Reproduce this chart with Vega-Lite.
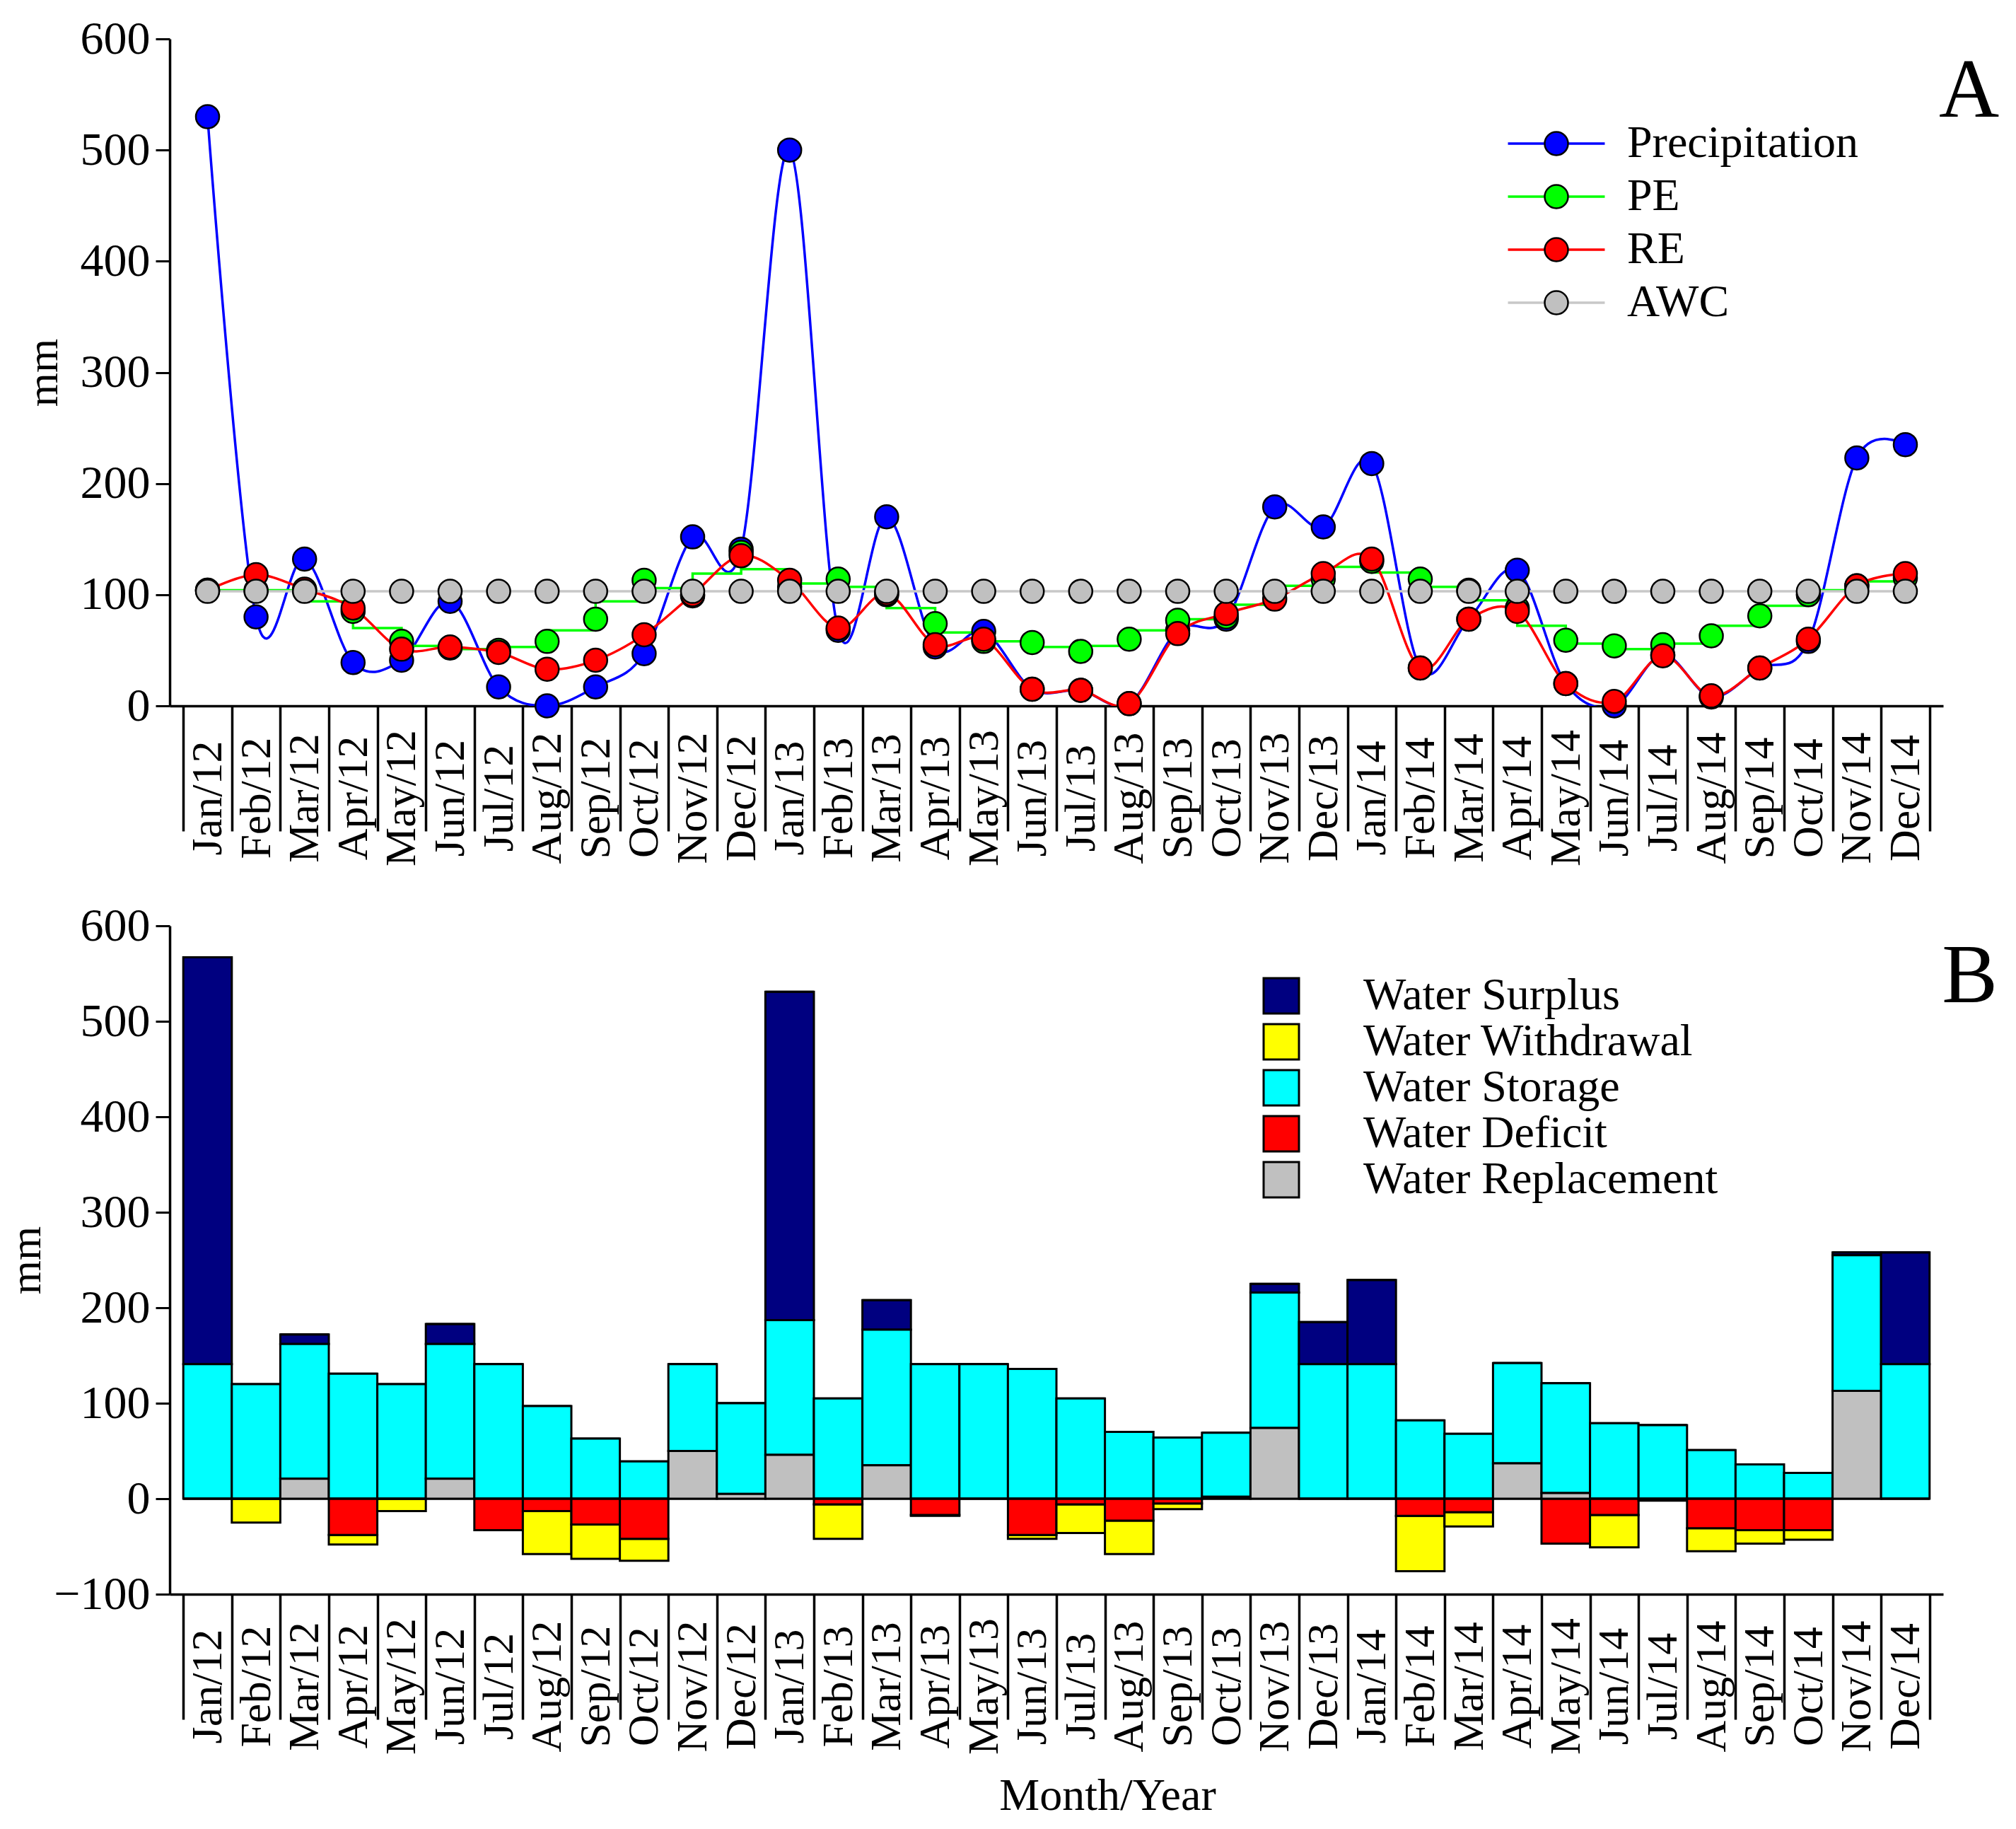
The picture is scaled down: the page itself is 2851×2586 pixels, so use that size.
{
  "$schema": "https://vega.github.io/schema/vega-lite/v6.json",
  "background": "white",
  "padding": {"left": 6, "top": 22, "right": 5, "bottom": 5},
  "config": {
    "font": "Liberation Serif",
    "view": {"stroke": null},
    "axis": {
      "labelFont": "Liberation Serif",
      "titleFont": "Liberation Serif",
      "labelColor": "black",
      "titleColor": "black",
      "domainColor": "black",
      "tickColor": "black",
      "titleFontWeight": "normal",
      "labelLimit": 1000,
      "grid": false
    },
    "axisX": {
      "labelAngle": 270,
      "labelAlign": "center",
      "labelBaseline": "middle",
      "labelFontSize": 62,
      "labelPadding": -47,
      "labelOverlap": false,
      "labelFlush": false,
      "tickSize": 177,
      "tickWidth": 3.5,
      "tickBand": "extent",
      "domainWidth": 3.5,
      "titleFontSize": 64
    },
    "axisY": {
      "labelFontSize": 66,
      "labelPadding": 8,
      "tickSize": 20,
      "tickWidth": 3,
      "domainWidth": 3.5,
      "titleFontSize": 62,
      "titleBaseline": "middle"
    },
    "legend": {
      "labelFont": "Liberation Serif",
      "labelColor": "black",
      "labelFontSize": 64,
      "labelLimit": 1000,
      "padding": 0
    }
  },
  "data": {
    "values": [
      {"m": "Jan/12", "P": 530, "PE": 104, "PEs": 104, "RE": 104, "AWC": 103, "Surplus": 426, "Storage": 141, "Replacement": 0, "Deficit": 0, "Withdrawal": 0},
      {"m": "Feb/12", "P": 80, "PE": 104, "PEs": 104, "RE": 118, "AWC": 103, "Surplus": 0, "Storage": 120, "Replacement": 0, "Deficit": 0, "Withdrawal": -25},
      {"m": "Mar/12", "P": 132, "PE": 104, "PEs": 94, "RE": 105, "AWC": 103, "Surplus": 10, "Storage": 141, "Replacement": 21, "Deficit": 0, "Withdrawal": 0},
      {"m": "Apr/12", "P": 39, "PE": 85, "PEs": 70, "RE": 88, "AWC": 103, "Surplus": 0, "Storage": 131, "Replacement": 0, "Deficit": -38, "Withdrawal": -10},
      {"m": "May/12", "P": 41, "PE": 58, "PEs": 54, "RE": 51, "AWC": 103, "Surplus": 0, "Storage": 120, "Replacement": 0, "Deficit": 0, "Withdrawal": -13},
      {"m": "Jun/12", "P": 94, "PE": 52, "PEs": 51, "RE": 53, "AWC": 103, "Surplus": 21, "Storage": 141, "Replacement": 21, "Deficit": 0, "Withdrawal": 0},
      {"m": "Jul/12", "P": 17, "PE": 50, "PEs": 53, "RE": 48, "AWC": 103, "Surplus": 0, "Storage": 141, "Replacement": 0, "Deficit": -33, "Withdrawal": 0},
      {"m": "Aug/12", "P": 0, "PE": 58, "PEs": 68, "RE": 33, "AWC": 103, "Surplus": 0, "Storage": 97, "Replacement": 0, "Deficit": -13, "Withdrawal": -45},
      {"m": "Sep/12", "P": 17, "PE": 78, "PEs": 94, "RE": 41, "AWC": 103, "Surplus": 0, "Storage": 63, "Replacement": 0, "Deficit": -27, "Withdrawal": -36},
      {"m": "Oct/12", "P": 47, "PE": 113, "PEs": 106, "RE": 64, "AWC": 103, "Surplus": 0, "Storage": 39, "Replacement": 0, "Deficit": -42, "Withdrawal": -23},
      {"m": "Nov/12", "P": 152, "PE": 99, "PEs": 119, "RE": 100, "AWC": 103, "Surplus": 0, "Storage": 91, "Replacement": 50, "Deficit": 0, "Withdrawal": 0},
      {"m": "Dec/12", "P": 141, "PE": 138, "PEs": 123, "RE": 135, "AWC": 103, "Surplus": 0, "Storage": 95, "Replacement": 5, "Deficit": 0, "Withdrawal": 0},
      {"m": "Jan/13", "P": 500, "PE": 107, "PEs": 110, "RE": 113, "AWC": 103, "Surplus": 344, "Storage": 141, "Replacement": 46, "Deficit": 0, "Withdrawal": 0},
      {"m": "Feb/13", "P": 68, "PE": 114, "PEs": 107, "RE": 70, "AWC": 103, "Surplus": 0, "Storage": 105, "Replacement": 0, "Deficit": -6, "Withdrawal": -36},
      {"m": "Mar/13", "P": 170, "PE": 100, "PEs": 88, "RE": 101, "AWC": 103, "Surplus": 31, "Storage": 142, "Replacement": 35, "Deficit": 0, "Withdrawal": 0},
      {"m": "Apr/13", "P": 53, "PE": 74, "PEs": 66, "RE": 55, "AWC": 103, "Surplus": 0, "Storage": 141, "Replacement": 0, "Deficit": -17, "Withdrawal": -1},
      {"m": "May/13", "P": 67, "PE": 58, "PEs": 58, "RE": 60, "AWC": 103, "Surplus": 0, "Storage": 141, "Replacement": 0, "Deficit": 0, "Withdrawal": 0},
      {"m": "Jun/13", "P": 15, "PE": 57, "PEs": 53, "RE": 15, "AWC": 103, "Surplus": 0, "Storage": 136, "Replacement": 0, "Deficit": -38, "Withdrawal": -4},
      {"m": "Jul/13", "P": 14, "PE": 49, "PEs": 54, "RE": 14, "AWC": 103, "Surplus": 0, "Storage": 105, "Replacement": 0, "Deficit": -6, "Withdrawal": -30},
      {"m": "Aug/13", "P": 2, "PE": 60, "PEs": 68, "RE": 2, "AWC": 103, "Surplus": 0, "Storage": 70, "Replacement": 0, "Deficit": -23, "Withdrawal": -35},
      {"m": "Sep/13", "P": 68, "PE": 77, "PEs": 78, "RE": 65, "AWC": 103, "Surplus": 0, "Storage": 64, "Replacement": 0, "Deficit": -5, "Withdrawal": -6},
      {"m": "Oct/13", "P": 78, "PE": 80, "PEs": 91, "RE": 83, "AWC": 103, "Surplus": 0, "Storage": 67, "Replacement": 2, "Deficit": 0, "Withdrawal": 0},
      {"m": "Nov/13", "P": 179, "PE": 102, "PEs": 108, "RE": 96, "AWC": 103, "Surplus": 9, "Storage": 142, "Replacement": 74, "Deficit": 0, "Withdrawal": 0},
      {"m": "Dec/13", "P": 161, "PE": 114, "PEs": 125, "RE": 119, "AWC": 103, "Surplus": 44, "Storage": 141, "Replacement": 0, "Deficit": 0, "Withdrawal": 0},
      {"m": "Jan/14", "P": 218, "PE": 130, "PEs": 120, "RE": 132, "AWC": 103, "Surplus": 88, "Storage": 141, "Replacement": 0, "Deficit": 0, "Withdrawal": 0},
      {"m": "Feb/14", "P": 34, "PE": 114, "PEs": 107, "RE": 34, "AWC": 103, "Surplus": 0, "Storage": 82, "Replacement": 0, "Deficit": -18, "Withdrawal": -58},
      {"m": "Mar/14", "P": 78, "PE": 104, "PEs": 95, "RE": 78, "AWC": 103, "Surplus": 0, "Storage": 68, "Replacement": 0, "Deficit": -14, "Withdrawal": -15},
      {"m": "Apr/14", "P": 122, "PE": 88, "PEs": 72, "RE": 85, "AWC": 103, "Surplus": 0, "Storage": 105, "Replacement": 37, "Deficit": 0, "Withdrawal": 0},
      {"m": "May/14", "P": 20, "PE": 59, "PEs": 56, "RE": 20, "AWC": 103, "Surplus": 0, "Storage": 115, "Replacement": 6, "Deficit": -47, "Withdrawal": 0},
      {"m": "Jun/14", "P": 0, "PE": 54, "PEs": 51, "RE": 4, "AWC": 103, "Surplus": 0, "Storage": 79, "Replacement": 0, "Deficit": -17, "Withdrawal": -34},
      {"m": "Jul/14", "P": 46, "PE": 55, "PEs": 56, "RE": 45, "AWC": 103, "Surplus": 0, "Storage": 77, "Replacement": 0, "Deficit": -2, "Withdrawal": 0},
      {"m": "Aug/14", "P": 8, "PE": 63, "PEs": 72, "RE": 9, "AWC": 103, "Surplus": 0, "Storage": 51, "Replacement": 0, "Deficit": -31, "Withdrawal": -24},
      {"m": "Sep/14", "P": 34, "PE": 81, "PEs": 90, "RE": 34, "AWC": 103, "Surplus": 0, "Storage": 36, "Replacement": 0, "Deficit": -33, "Withdrawal": -14},
      {"m": "Oct/14", "P": 58, "PE": 100, "PEs": 104, "RE": 60, "AWC": 103, "Surplus": 0, "Storage": 27, "Replacement": 0, "Deficit": -33, "Withdrawal": -10},
      {"m": "Nov/14", "P": 223, "PE": 108, "PEs": 112, "RE": 108, "AWC": 103, "Surplus": 3, "Storage": 142, "Replacement": 113, "Deficit": 0, "Withdrawal": 0},
      {"m": "Dec/14", "P": 235, "PE": 115, "PEs": 112, "RE": 119, "AWC": 103, "Surplus": 117, "Storage": 141, "Replacement": 0, "Deficit": 0, "Withdrawal": 0}
    ]
  },
  "bounds": "flush",
  "spacing": 311,
  "vconcat": [
    {
      "width": 2508,
      "height": 943,
      "encoding": {
        "x": {
          "field": "m",
          "type": "nominal",
          "sort": null,
          "scale": {"type": "band", "paddingInner": 0, "paddingOuter": 0.28},
          "axis": {"title": null}
        }
      },
      "layer": [
        {
          "mark": {"type": "line", "interpolate": "cardinal", "strokeWidth": 3.5, "clip": true},
          "encoding": {
            "y": {"field": "P", "type": "quantitative", "title": "mm", "scale": {"domain": [0, 600]}, "axis": {"values": [0, 100, 200, 300, 400, 500, 600], "titleX": -179}},
            "stroke": {
              "datum": "Precipitation",
              "scale": {"domain": ["Precipitation", "PE", "RE", "AWC"], "range": ["#0000ff", "#00ff00", "#ff0000", "#c8c8c8"]},
              "legend": {
                "orient": "none",
                "legendX": 1929,
                "legendY": 116,
                "title": null,
                "symbolType": "M-4.15,0H-1M1,0H4.15",
                "symbolSize": 1089,
                "symbolStrokeWidth": 3.5,
                "symbolFillColor": "transparent",
                "labelOffset": 68,
                "rowPadding": 11
              }
            }
          }
        },
        {
          "mark": {"type": "line", "interpolate": "step-after", "strokeWidth": 3.5},
          "encoding": {
            "y": {"field": "PEs", "type": "quantitative", "title": "mm", "scale": {"domain": [0, 600]}, "axis": {"values": [0, 100, 200, 300, 400, 500, 600], "titleX": -179}},
            "stroke": {"datum": "PE"}
          }
        },
        {
          "mark": {"type": "line", "interpolate": "cardinal", "strokeWidth": 3.5, "clip": true},
          "encoding": {
            "y": {"field": "RE", "type": "quantitative", "title": "mm", "scale": {"domain": [0, 600]}, "axis": {"values": [0, 100, 200, 300, 400, 500, 600], "titleX": -179}},
            "stroke": {"datum": "RE"}
          }
        },
        {
          "mark": {"type": "line", "strokeWidth": 3.5},
          "encoding": {
            "y": {"field": "AWC", "type": "quantitative", "title": "mm", "scale": {"domain": [0, 600]}, "axis": {"values": [0, 100, 200, 300, 400, 500, 600], "titleX": -179}},
            "stroke": {"datum": "AWC"}
          }
        },
        {
          "mark": {"type": "point", "shape": "M-1,0A1,1 0 1,0 1,0A1,1 0 1,0 -1,0Z", "size": 1089, "filled": true, "stroke": "black", "strokeWidth": 2.5, "opacity": 1},
          "encoding": {
            "y": {"field": "P", "type": "quantitative", "title": "mm", "scale": {"domain": [0, 600]}, "axis": {"values": [0, 100, 200, 300, 400, 500, 600], "titleX": -179}},
            "fill": {
              "datum": "P dot",
              "scale": {"domain": ["P dot", "PE dot", "RE dot", "AWC dot"], "range": ["#0000ff", "#00ff00", "#ff0000", "#c0c0c0"]},
              "legend": {
                "orient": "none",
                "legendX": 1929,
                "legendY": 116,
                "title": null,
                "symbolType": "M-1,0A1,1 0 1,0 1,0A1,1 0 1,0 -1,0Z",
                "symbolSize": 1089,
                "symbolStrokeColor": "black",
                "symbolStrokeWidth": 2.5,
                "labelExpr": "''",
                "labelOffset": 68,
                "rowPadding": 11
              }
            }
          }
        },
        {
          "mark": {"type": "point", "shape": "M-1,0A1,1 0 1,0 1,0A1,1 0 1,0 -1,0Z", "size": 1089, "filled": true, "stroke": "black", "strokeWidth": 2.5, "opacity": 1},
          "encoding": {
            "y": {"field": "PE", "type": "quantitative", "title": "mm", "scale": {"domain": [0, 600]}, "axis": {"values": [0, 100, 200, 300, 400, 500, 600], "titleX": -179}},
            "fill": {"datum": "PE dot"}
          }
        },
        {
          "mark": {"type": "point", "shape": "M-1,0A1,1 0 1,0 1,0A1,1 0 1,0 -1,0Z", "size": 1089, "filled": true, "stroke": "black", "strokeWidth": 2.5, "opacity": 1},
          "encoding": {
            "y": {"field": "RE", "type": "quantitative", "title": "mm", "scale": {"domain": [0, 600]}, "axis": {"values": [0, 100, 200, 300, 400, 500, 600], "titleX": -179}},
            "fill": {"datum": "RE dot"}
          }
        },
        {
          "mark": {"type": "point", "shape": "M-1,0A1,1 0 1,0 1,0A1,1 0 1,0 -1,0Z", "size": 1089, "filled": true, "stroke": "black", "strokeWidth": 2.5, "opacity": 1},
          "encoding": {
            "y": {"field": "AWC", "type": "quantitative", "title": "mm", "scale": {"domain": [0, 600]}, "axis": {"values": [0, 100, 200, 300, 400, 500, 600], "titleX": -179}},
            "fill": {"datum": "AWC dot"}
          }
        },
        {
          "data": {"values": [{"t": "A"}]},
          "mark": {"type": "text", "font": "Liberation Serif", "fontSize": 118, "color": "black", "align": "center", "baseline": "alphabetic", "dx": 90},
          "encoding": {
            "x": {"datum": "Dec/14"},
            "y": {"datum": 530},
            "text": {"field": "t"}
          }
        }
      ]
    },
    {
      "width": 2508,
      "height": 945,
      "encoding": {
        "x": {
          "field": "m",
          "type": "nominal",
          "sort": null,
          "scale": {"type": "band", "paddingInner": 0, "paddingOuter": 0.28},
          "axis": {"title": "Month/Year", "titleX": 1326, "titleY": 253, "titleBaseline": "top", "titleAlign": "center"}
        }
      },
      "layer": [
        {
          "transform": [{"fold": ["Surplus", "Withdrawal", "Storage", "Deficit", "Replacement"], "as": ["k", "v"]}],
          "mark": {"type": "bar", "stroke": "black", "strokeWidth": 3},
          "encoding": {
            "y": {"field": "v", "type": "quantitative", "stack": "zero", "title": "mm", "scale": {"domain": [-100, 600]}, "axis": {"values": [-100, 0, 100, 200, 300, 400, 500, 600], "titleX": -203}},
            "color": {
              "field": "k",
              "type": "nominal",
              "scale": {"domain": ["Surplus", "Withdrawal", "Storage", "Deficit", "Replacement"], "range": ["#000080", "#ffff00", "#00ffff", "#ff0000", "#c0c0c0"]},
              "legend": {
                "orient": "none",
                "legendX": 1540,
                "legendY": 1321,
                "title": null,
                "symbolType": "square",
                "symbolSize": 2500,
                "symbolStrokeColor": "black",
                "symbolStrokeWidth": 3,
                "symbolOpacity": 1,
                "labelOffset": 84,
                "rowPadding": 1,
                "labelExpr": "'Water ' + datum.label"
              }
            },
            "order": {"field": "k", "sort": "ascending"}
          }
        },
        {
          "mark": {"type": "rule", "stroke": "black", "strokeWidth": 3.5},
          "encoding": {"y": {"datum": 0}}
        },
        {
          "data": {"values": [{"t": "B"}]},
          "mark": {"type": "text", "font": "Liberation Serif", "fontSize": 118, "color": "black", "align": "center", "baseline": "alphabetic", "dx": 91},
          "encoding": {
            "x": {"datum": "Dec/14"},
            "y": {"datum": 520},
            "text": {"field": "t"}
          }
        }
      ]
    }
  ]
}
